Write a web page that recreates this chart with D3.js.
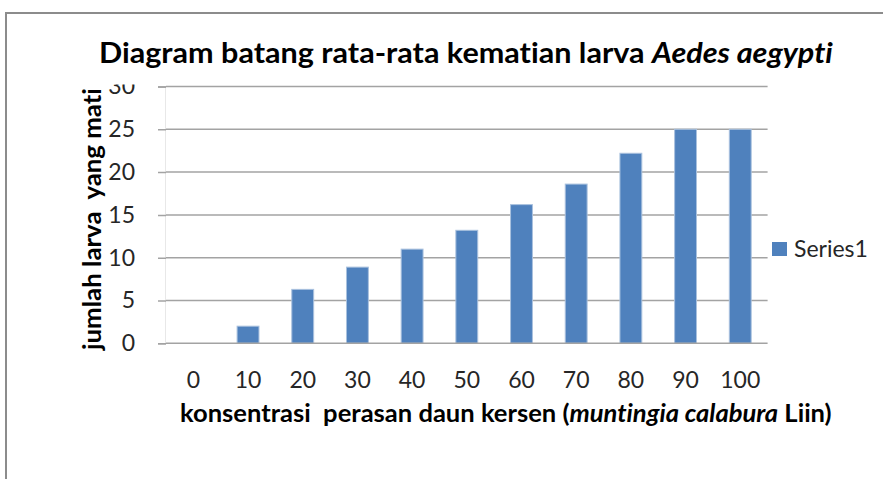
<!DOCTYPE html>
<html>
<head>
<meta charset="utf-8">
<script src="https://cdn.jsdelivr.net/npm/d3@7"></script>
<style>
  body { margin: 0; background: #fff; }
  svg { display: block; font-family: Lato, "Open Sans", sans-serif; font-variant-ligatures: none; }
</style>
</head>
<body>
<div id="chart"></div>
<script>
// data
const categories = ["0", "10", "20", "30", "40", "50", "60", "70", "80", "90", "100"];
const series1 = [0, 2, 6.3, 8.9, 11, 13.2, 16.2, 18.6, 22.2, 25, 25];
const yTicks = [0, 5, 10, 15, 20, 25, 30];
const seriesName = "Series1";

const width = 883, height = 479;

const svg = d3.select("#chart").append("svg")
  .attr("width", width)
  .attr("height", height);

// outer chart frame (only left and top edges are visible)
svg.append("rect")
  .attr("x", 6).attr("y", 13)
  .attr("width", width + 20).attr("height", height + 20)
  .attr("fill", "none")
  .attr("stroke", "#8c8c8c")
  .attr("stroke-width", 2);

const x = d3.scaleBand()
  .domain(categories)
  .range([166, 767.6])
  .paddingInner(0.6)
  .paddingOuter(0.3);

const y = d3.scaleLinear()
  .domain([0, 30])
  .range([343.3, 86.5]);

// horizontal gridlines
svg.append("g")
  .selectAll("line")
  .data(yTicks.filter(d => d > 0))
  .join("line")
  .attr("x1", 166).attr("x2", 767.6)
  .attr("y1", d => y(d)).attr("y2", d => y(d))
  .attr("stroke", "#a3a3a3")
  .attr("stroke-width", 1.5);

// y axis with outward ticks
const yAxis = svg.append("g")
  .attr("transform", "translate(166,0)")
  .call(d3.axisLeft(y).tickValues(yTicks).tickSize(8).tickPadding(23));
yAxis.select(".domain").attr("stroke", "#a3a3a3").attr("stroke-width", 1.5);
yAxis.selectAll(".tick line").attr("stroke", "#a3a3a3").attr("stroke-width", 1.5);
yAxis.selectAll(".tick text")
  .attr("font-size", 23)
  .attr("font-family", "Lato, sans-serif")
  .attr("fill", "#262626");

// the top label is cut off in the reference
svg.append("clipPath").attr("id", "yclip")
  .append("rect").attr("x", -166).attr("y", 84.5).attr("width", 166).attr("height", 300);
yAxis.attr("clip-path", "url(#yclip)");

// bars
svg.append("g")
  .selectAll("rect")
  .data(series1)
  .join("rect")
  .attr("x", (d, i) => x(categories[i]))
  .attr("width", x.bandwidth())
  .attr("y", d => y(d))
  .attr("height", d => y(0) - y(d))
  .attr("fill", d => d > 0 ? "#4f81bd" : "none")
  .attr("stroke", d => d > 0 ? "#a9c1de" : "none")
  .attr("stroke-width", 1);

// baseline (category axis)
svg.append("line")
  .attr("x1", 166).attr("x2", 767.6)
  .attr("y1", y(0)).attr("y2", y(0))
  .attr("stroke", "#a3a3a3")
  .attr("stroke-width", 1.5);

// category labels
svg.append("g")
  .selectAll("text")
  .data(categories)
  .join("text")
  .attr("x", d => x(d) + x.bandwidth() / 2)
  .attr("y", 388)
  .attr("text-anchor", "middle")
  .attr("font-size", 23)
  .attr("fill", "#262626")
  .text(d => d);

// stretch a text element horizontally so it spans x0..x1
function fitText(text, x0, x1, baseline) {
  const w = text.node().getComputedTextLength();
  text.attr("x", 0).attr("y", 0)
    .attr("transform", `translate(${x0},${baseline}) scale(${(x1 - x0) / w},1)`);
}

// chart title
const title = svg.append("text")
  .attr("font-size", 28)
  .attr("font-weight", "bold")
  .attr("fill", "#000");
title.append("tspan").text("Diagram batang rata-rata kematian larva ");
title.append("tspan").attr("font-style", "italic").text("Aedes aegypti");
fitText(title, 99, 833, 63);

// x axis title
const xTitle = svg.append("text")
  .attr("font-size", 25)
  .attr("font-weight", "bold")
  .attr("fill", "#000")
  .attr("xml:space", "preserve");
xTitle.append("tspan").text("konsentrasi  perasan daun kersen (");
xTitle.append("tspan").attr("font-style", "italic").text("muntingia calabura");
xTitle.append("tspan").text(" Liin)");
fitText(xTitle, 180, 832, 422);

// y axis title (rotated)
const yTitle = svg.append("text")
  .attr("font-size", 25)
  .attr("font-weight", "bold")
  .attr("fill", "#000")
  .attr("xml:space", "preserve")
  .text("jumlah larva  yang mati");
{
  const w = yTitle.node().getComputedTextLength();
  yTitle.attr("x", 0).attr("y", 0)
    .attr("transform", `translate(101,350) rotate(-90) scale(${262 / w},1)`);
}

// legend
svg.append("rect")
  .attr("x", 772).attr("y", 242)
  .attr("width", 15).attr("height", 14)
  .attr("fill", "#4f81bd");
svg.append("text")
  .attr("x", 794).attr("y", 257)
  .attr("font-size", 23)
  .attr("fill", "#262626")
  .text(seriesName);
</script>
</body>
</html>
